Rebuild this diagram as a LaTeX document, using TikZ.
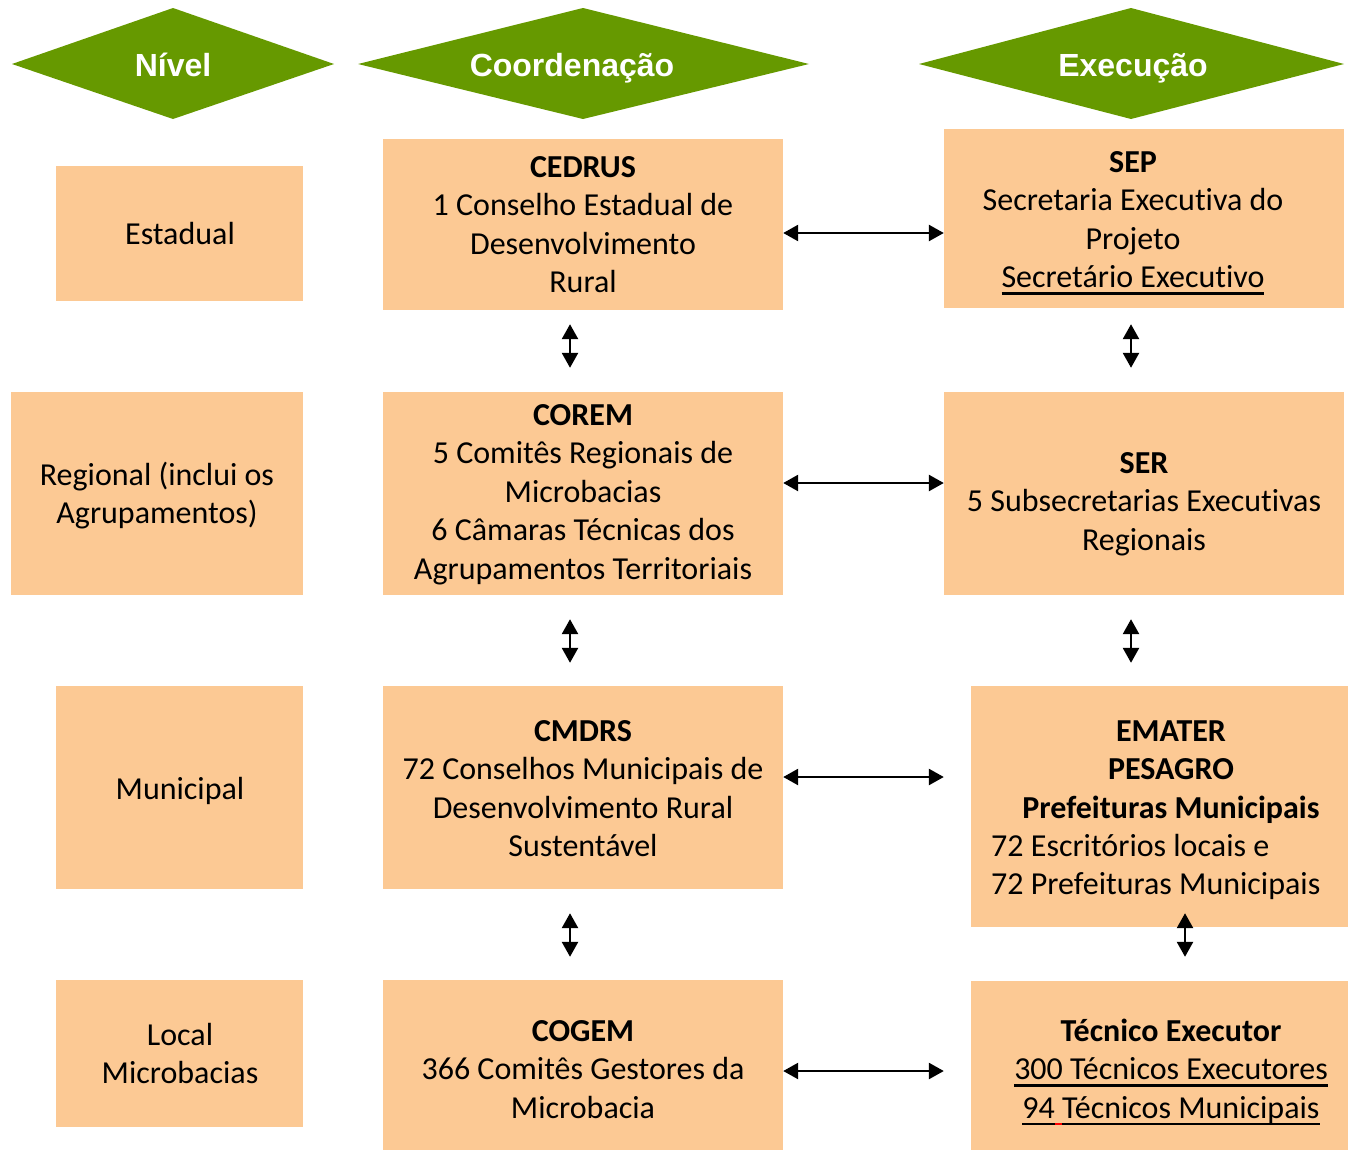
\documentclass[tikz,border=0pt]{standalone}
\usepackage{fontspec}
\setmainfont{Carlito}[Ligatures=NoCommon]
\newfontfamily\hdrfont{Liberation Sans}
\newsavebox{\ulbox}
\newcommand{\myul}[2][black]{\sbox{\ulbox}{#2}\rlap{\textcolor{#1}{\rule[-7pt]{\wd\ulbox}{2.5pt}}}\usebox{\ulbox}}
\usetikzlibrary{arrows.meta,calc}
\definecolor{grn}{HTML}{669900}
\definecolor{peach}{HTML}{FCC994}
\begin{document}
\begin{tikzpicture}[x=1pt,y=-1pt,
  box/.style={fill=peach,draw=none,inner sep=0pt},
  txt/.style={align=center,anchor=base,font=\fontsize{32}{38.6}\selectfont,inner sep=0pt},
  hdr/.style={text=white,anchor=base,font=\hdrfont\bfseries\fontsize{32}{36}\selectfont,inner sep=0pt},
  arr/.style={line width=2.6pt,{Triangle[length=15pt,width=16pt]}-{Triangle[length=15pt,width=16pt]}}]
\useasboundingbox (0,0) rectangle (1349,1151);

% header diamonds
\fill[grn] (12,64)--(173,8)--(334,64)--(173,119)--cycle;
\node[hdr] (hnivel) at (173,76) {Nível};
\fill[grn] (358,64)--(583,8)--(809,64)--(583,119)--cycle;
\node[hdr] (hcoord) at (572,76) {Coordenação};
\fill[grn] (919,64)--(1131,8)--(1344,64)--(1131,119)--cycle;
\node[hdr] (hexec) at (1133,76) {Execução};

% left column
\node[box,minimum width=247pt,minimum height=135pt] (estadual) at (179.5,233.5) {};
\node[box,minimum width=292pt,minimum height=203pt] (regional) at (157,493.5) {};
\node[box,minimum width=247pt,minimum height=203pt] (municipal) at (179.5,787.5) {};
\node[box,minimum width=247pt,minimum height=147pt] (local) at (179.5,1053.5) {};
% middle column
\node[box,minimum width=400pt,minimum height=171pt] (cedrus) at (583,224.5) {};
\node[box,minimum width=400pt,minimum height=203pt] (corem) at (583,493.5) {};
\node[box,minimum width=400pt,minimum height=203pt] (cmdrs) at (583,787.5) {};
\node[box,minimum width=400pt,minimum height=170pt] (cogem) at (583,1065) {};
% right column
\node[box,minimum width=400pt,minimum height=179pt] (sep) at (1144,218.5) {};
\node[box,minimum width=400pt,minimum height=203pt] (ser) at (1144,493.5) {};
\node[box,minimum width=377pt,minimum height=241pt] (emater) at (1159.5,806.5) {};
\node[box,minimum width=377pt,minimum height=169pt] (tecnico) at (1159.5,1065.5) {};

% texts (multi-line nodes: base = baseline of last line)
\node[txt] (testadual) at (180,244) {Estadual};
\node[txt] (tregional) at (157,523.6) {Regional (inclui os\\Agrupamentos)};
\node[txt] (tmunicipal) at (180,799) {Municipal};
\node[txt] (tlocal) at (180,1083.6) {Local\\Microbacias};

\node[txt] (tcedrus) at (583,292.8) {\textbf{CEDRUS}\\1 Conselho Estadual de\\Desenvolvimento\\Rural};
\node[txt] (tcorem) at (583,579.4) {\textbf{COREM}\\5 Comitês Regionais de\\Microbacias\\6 Câmaras Técnicas dos\\Agrupamentos Territoriais};
\node[txt] (tcmdrs) at (583,856.8) {\textbf{CMDRS}\\72 Conselhos Municipais de\\Desenvolvimento Rural\\Sustentável};
\node[txt] (tcogem) at (583,1118.2) {\textbf{COGEM}\\366 Comitês Gestores da\\Microbacia};

\node[txt] (tsep) at (1133,287.8) {\textbf{SEP}\\Secretaria Executiva do\\Projeto\\\myul{Secretário Executivo}};
\node[txt] (tser) at (1144,550.2) {\textbf{SER}\\5 Subsecretarias Executivas\\Regionais};
\node[txt] (temater) at (1171,818.2) {\textbf{EMATER}\\\textbf{PESAGRO}\\\textbf{Prefeituras Municipais}};
\node[txt,align=left,anchor=base west] (temater2) at (991,894.6) {72 Escritórios locais e\\72 Prefeituras Municipais};
\node[txt] (ttecnico) at (1171,1118.2) {\textbf{Técnico Executor}\\\myul{300 Técnicos Executores}\\\myul{94}\myul[red]{\ }\myul{Técnicos Municipais}};

% horizontal arrows
\draw[arr] (cedrus.east |- 0,233) -- (sep.west |- 0,233);
\draw[arr] (corem.east |- 0,483) -- (ser.west |- 0,483);
\draw[arr] (cmdrs.east |- 0,777) -- (sep.west |- 0,777);
\draw[arr] (cogem.east |- 0,1071) -- (sep.west |- 0,1071);

% vertical arrows, middle
\draw[arr] ($(cedrus.south -| 570,0)+(0,14)$) -- ($(corem.north -| 570,0)+(0,-24)$);
\draw[arr] ($(corem.south -| 570,0)+(0,24)$) -- ($(cmdrs.north -| 570,0)+(0,-23)$);
\draw[arr] ($(cmdrs.south -| 570,0)+(0,24)$) -- ($(cogem.north -| 570,0)+(0,-23)$);
% vertical arrows, right
\draw[arr] ($(sep.south -| 1131,0)+(0,16)$) -- ($(ser.north -| 1131,0)+(0,-24)$);
\draw[arr] ($(ser.south -| 1131,0)+(0,24)$) -- ($(emater.north -| 1131,0)+(0,-23)$);
\draw[arr] ($(emater.south -| 1185,0)+(0,-14)$) -- ($(tecnico.north -| 1185,0)+(0,-24)$);
\end{tikzpicture}
\end{document}
